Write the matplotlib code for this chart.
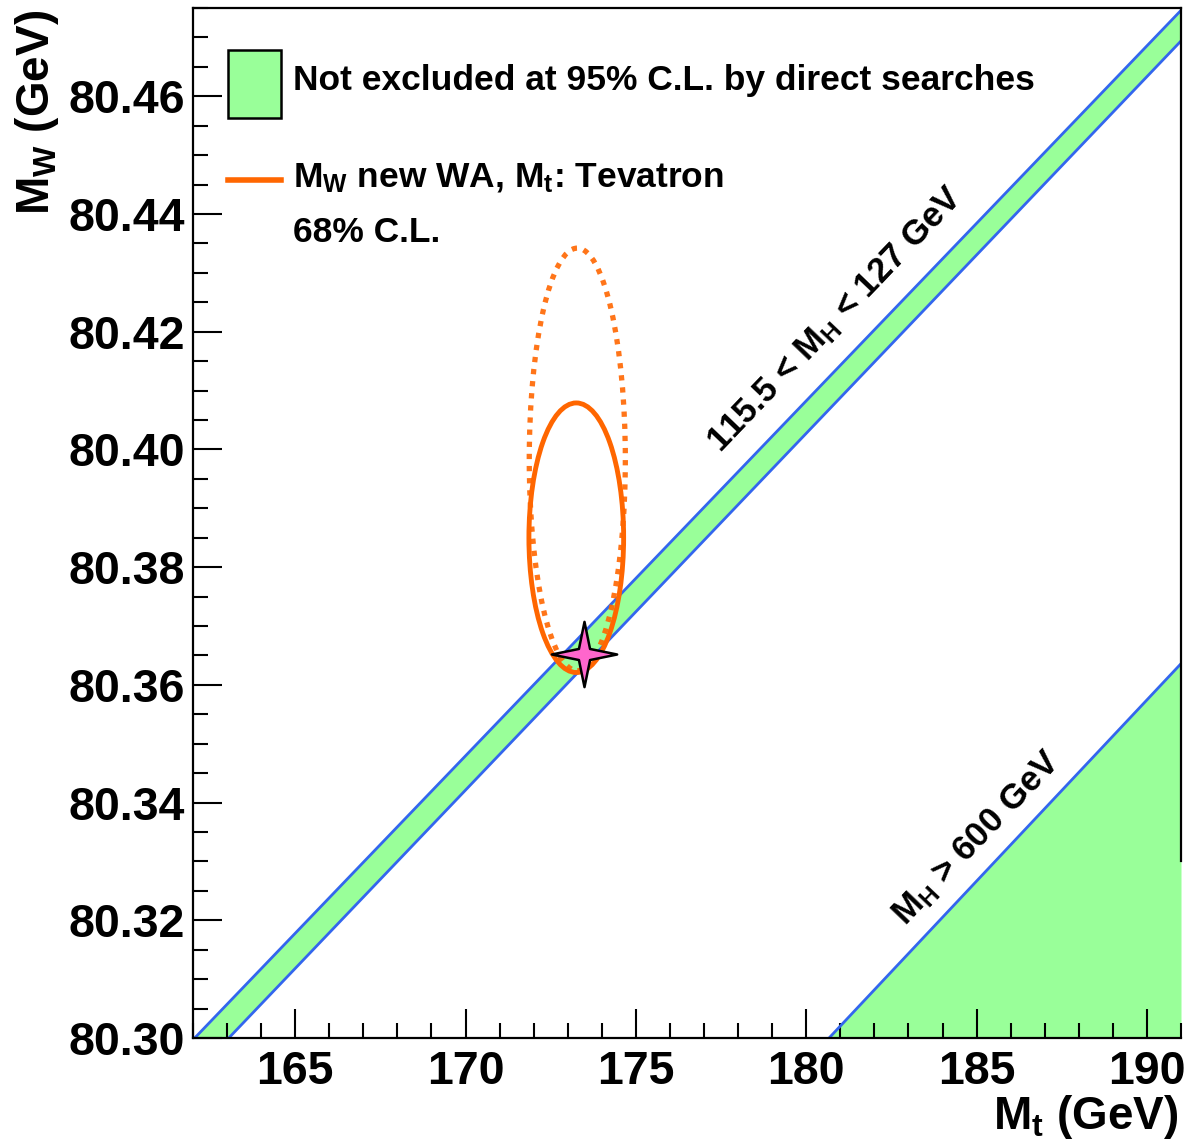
import numpy as np
import matplotlib
matplotlib.use('Agg')
import matplotlib.pyplot as plt
from matplotlib.patches import Ellipse, Rectangle
from matplotlib.lines import Line2D
from matplotlib.path import Path
from matplotlib.ticker import MultipleLocator

plt.rcParams['font.family'] = ['Liberation Sans', 'DejaVu Sans']
plt.rcParams['font.weight'] = 'bold'
plt.rcParams['mathtext.fontset'] = 'custom'
plt.rcParams['mathtext.rm'] = 'Liberation Sans:bold'
plt.rcParams['mathtext.it'] = 'Liberation Sans:bold'
plt.rcParams['mathtext.bf'] = 'Liberation Sans:bold'
plt.rcParams['mathtext.default'] = 'rm'

# axis ranges
mt_range = [162.0, 191.0]
mw_range = [80.300, 80.475]

# SM lines (M_t, M_W) for different Higgs masses
mh115_mt = [162.05, 191.0]
mh115_mw = [80.300, 80.4746]
mh127_mt = [163.05, 191.0]
mh127_mw = [80.300, 80.4694]
mh600_mt = [180.67, 191.0]
mh600_mw = [80.300, 80.3636]

# 68% CL contours: centre, full width, full height
ell_solid = [173.25, 80.385, 2.78, 0.0458]
ell_dotted = [173.28, 80.3983, 2.82, 0.0718]

# SM best fit point
fit_mt = [173.47]
fit_mw = [80.3653]

green = '#99ff99'
blue = '#3366ee'
orange = '#ff6600'

fig = plt.figure(figsize=(11.92, 11.44), dpi=100)
ax = fig.add_axes([193/1192, 1 - 1038/1144, 988/1192, 1030/1144])

# band 115.5 < MH < 127
ax.fill(mh115_mt + mh127_mt[::-1], mh115_mw + mh127_mw[::-1], color=green, lw=0, zorder=1)
ax.plot(mh115_mt, mh115_mw, color=blue, lw=2.0, zorder=2)
ax.plot(mh127_mt, mh127_mw, color=blue, lw=2.0, zorder=2)

# MH > 600
ax.fill_between(mh600_mt, mh600_mw, mw_range[0], color=green, lw=0, zorder=1)
ax.plot(mh600_mt, mh600_mw, color=blue, lw=2.0, zorder=2)

# ellipses
e1 = Ellipse((ell_dotted[0], ell_dotted[1]), ell_dotted[2], ell_dotted[3], fill=False,
             edgecolor=orange, lw=3.8, linestyle=(0, (1, 1.3)), alpha=0.9, zorder=3)
e2 = Ellipse((ell_solid[0], ell_solid[1]), ell_solid[2], ell_solid[3], fill=False,
             edgecolor=orange, lw=3.5, zorder=3)
ax.add_patch(e1)
ax.add_patch(e2)

# four pointed star marker
a = 0.17
star = Path([(0, 1), (a, a), (1, 0), (a, -a), (0, -1), (-a, -a), (-1, 0), (-a, a), (0, 1)],
            [Path.MOVETO] + [Path.LINETO] * 7 + [Path.CLOSEPOLY])
ax.plot(fit_mt, fit_mw, marker=star, markersize=47, markerfacecolor='#ff66cc',
        markeredgecolor='black', markeredgewidth=1.8, ls='none', zorder=5)

# labels on lines
ax.text(180.86, 80.422, r'115.5 < M$_\mathrm{H}$ < 127 GeV', rotation=46.3,
        rotation_mode='anchor', ha='center', va='center', fontsize=25, zorder=4)
ax.text(185.02, 80.3339, r'M$_\mathrm{H}$ > 600 GeV', rotation=46.3,
        rotation_mode='anchor', ha='center', va='center', fontsize=25, zorder=4)

# legend drawn by hand
ax.add_patch(Rectangle((0.0354, 0.893), 0.0536, 0.066, transform=ax.transAxes,
                       facecolor=green, edgecolor='black', lw=1.8, zorder=6))
ax.text(0.101, 0.930, 'Not excluded at 95% C.L. by direct searches', transform=ax.transAxes,
        ha='left', va='center', fontsize=25.5, zorder=6)
ax.add_line(Line2D([0.0354, 0.089], [0.833, 0.833], transform=ax.transAxes,
                   color=orange, lw=4, zorder=6))
ax.text(0.101, 0.835, r'M$_\mathrm{W}$ new WA, M$_\mathrm{t}$: Tevatron', transform=ax.transAxes,
        ha='left', va='center', fontsize=25.5, zorder=6)
ax.text(0.101, 0.782, '68% C.L.', transform=ax.transAxes,
        ha='left', va='center', fontsize=25.5, zorder=6)

ax.set_xlim(mt_range)
ax.set_ylim(mw_range)

ax.xaxis.set_major_locator(MultipleLocator(5))
ax.xaxis.set_minor_locator(MultipleLocator(1))
ax.yaxis.set_major_locator(MultipleLocator(0.02))
ax.yaxis.set_minor_locator(MultipleLocator(0.005))
ax.yaxis.set_major_formatter(matplotlib.ticker.FormatStrFormatter('%.2f'))

ax.tick_params(which='major', direction='in', length=21, width=1.5, labelsize=33.5)
ax.tick_params(which='minor', direction='in', length=10.5, width=1.5)
ax.tick_params(axis='x', which='major', pad=9)
ax.tick_params(axis='y', which='major', pad=6)
for s in ax.spines.values():
    s.set_linewidth(1.6)
ax.spines['right'].set_bounds(80.330, mw_range[1])

ax.text(0.997, -0.053, r'M$_\mathrm{t}$ (GeV)', transform=ax.transAxes,
        ha='right', va='top', fontsize=33)
ax.text(-0.158, 0.998, r'M$_\mathrm{W}$ (GeV)', transform=ax.transAxes,
        ha='center', va='top', rotation=90, fontsize=33)

fig.savefig('out.png', dpi=100)
